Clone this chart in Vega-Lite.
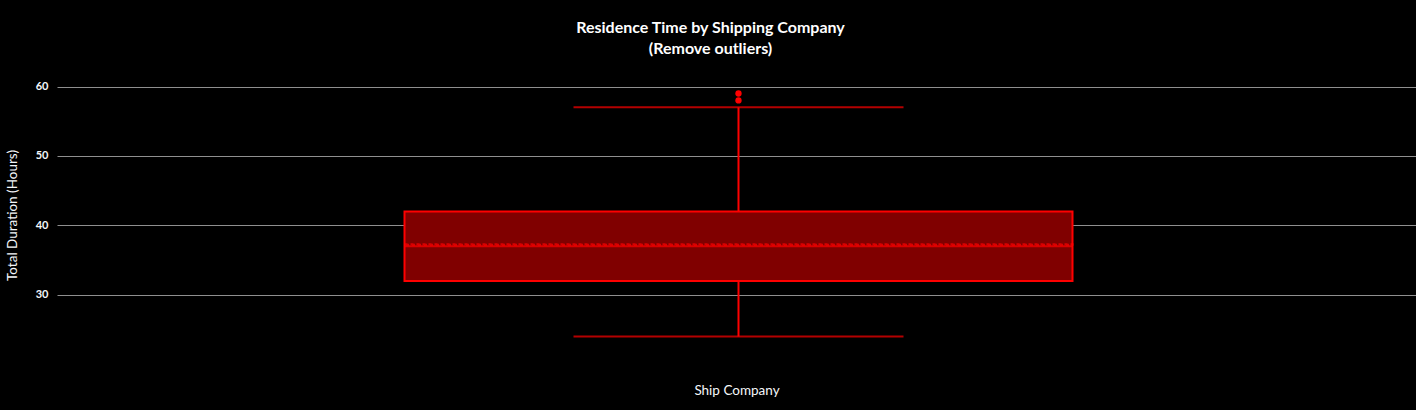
{
  "$schema": "https://vega.github.io/schema/vega-lite/v6.json",
  "autosize": "none",
  "width": 1359,
  "height": 270,
  "padding": {"left": 57, "top": 80, "right": 0, "bottom": 60},
  "background": "#000000",
  "config": {
    "view": {"stroke": null},
    "font": "Lato",
    "axis": {"labelColor": "#f5f7fa", "titleColor": "#f5f7fa", "titleFontWeight": "normal", "titleFont": "Lato", "labelFont": "Lato"}
  },
  "title": {
    "text": ["Residence Time by Shipping Company", "(Remove outliers)"],
    "color": "#ffffff",
    "fontSize": 16,
    "fontWeight": "bold",
    "font": "Lato",
    "anchor": "middle",
    "frame": "group",
    "dx": -26,
    "offset": 23,
    "lineHeight": 21
  },
  "datasets": {
    "summary": [
      {"company": "Ship Company", "lower": 24, "q1": 32, "median": 37, "mean": 37.26, "q3": 42, "upper": 57}
    ],
    "outliers": [
      {"company": "Ship Company", "duration": 58},
      {"company": "Ship Company", "duration": 59}
    ]
  },
  "encoding": {
    "x": {
      "field": "company",
      "type": "nominal",
      "title": "Ship Company",
      "axis": {"labels": false, "ticks": false, "domain": false, "titlePadding": 33, "titleFontSize": 13.5}
    }
  },
  "layer": [
    {
      "data": {"name": "summary"},
      "mark": {"type": "rule", "color": "#ff0000", "strokeWidth": 2, "xOffset": 2},
      "encoding": {
        "y": {
          "field": "lower",
          "type": "quantitative",
          "title": "Total Duration (Hours)",
          "scale": {"domain": [22.06, 60.94], "nice": false, "zero": false},
          "axis": {
            "values": [30, 40, 50, 60],
            "grid": true,
            "gridColor": "#8f8f8f",
            "gridWidth": 1,
            "domain": false,
            "ticks": false,
            "labelPadding": 9,
            "labelFontSize": 11,
            "labelFontWeight": "bold",
            "titleFontSize": 13.5,
            "titlePadding": 16
          }
        },
        "y2": {"field": "upper"}
      }
    },
    {
      "data": {"name": "summary"},
      "mark": {"type": "bar", "size": 668, "fill": "#800000", "stroke": "#ff0000", "strokeWidth": 2, "xOffset": 2},
      "encoding": {
        "y": {"field": "q1", "type": "quantitative"},
        "y2": {"field": "q3"}
      }
    },
    {
      "data": {"name": "summary"},
      "mark": {"type": "tick", "size": 330, "thickness": 2, "color": "#ff0000", "xOffset": 2},
      "encoding": {"y": {"field": "upper", "type": "quantitative"}}
    },
    {
      "data": {"name": "summary"},
      "mark": {"type": "tick", "size": 330, "thickness": 2, "color": "#ff0000", "xOffset": 2},
      "encoding": {"y": {"field": "lower", "type": "quantitative"}}
    },
    {
      "data": {"name": "summary"},
      "mark": {"type": "tick", "size": 668, "thickness": 2, "color": "#ff0000", "xOffset": 2},
      "encoding": {"y": {"field": "median", "type": "quantitative"}}
    },
    {
      "data": {"name": "summary"},
      "mark": {"type": "tick", "size": 668, "thickness": 0.5, "filled": false, "stroke": "#ff0000", "strokeWidth": 2, "strokeDash": [3, 3], "xOffset": 2},
      "encoding": {"y": {"field": "mean", "type": "quantitative"}}
    },
    {
      "data": {"name": "outliers"},
      "mark": {"type": "point", "filled": true, "color": "#ff0000", "opacity": 1, "size": 40, "xOffset": 2},
      "encoding": {"y": {"field": "duration", "type": "quantitative"}}
    }
  ]
}
